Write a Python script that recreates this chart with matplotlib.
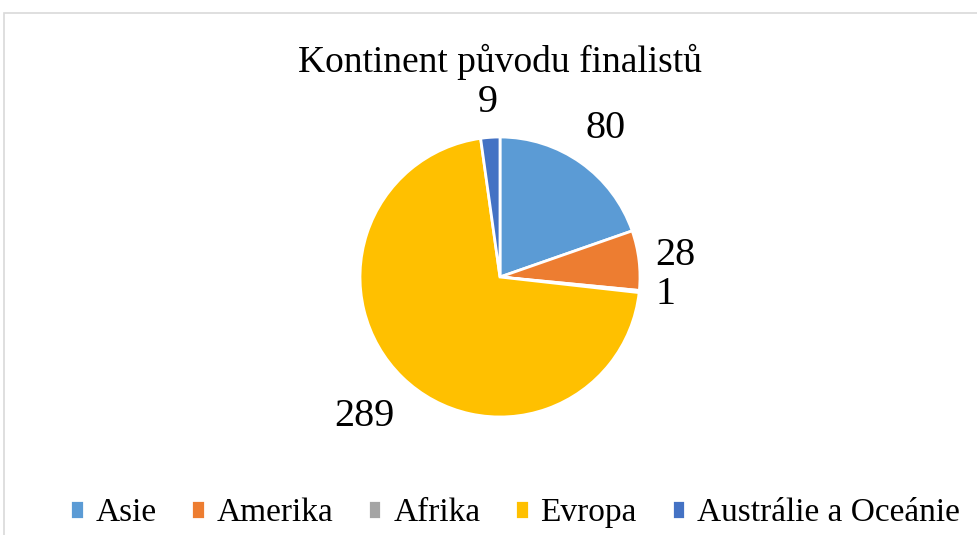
import numpy as np
import matplotlib
matplotlib.use("Agg")
import matplotlib.pyplot as plt
from matplotlib.patches import Rectangle

plt.rcParams["font.family"] = ["Liberation Serif", "DejaVu Serif"]

# Data
categories = ["Asie", "Amerika", "Afrika", "Evropa", "Austrálie a Oceánie"]
counts = [80, 28, 1, 289, 9]
colors = ["#5B9BD5", "#ED7D31", "#A5A5A5", "#FFC000", "#4472C4"]

W, H = 977, 535
fig = plt.figure(figsize=(W / 100, H / 100), dpi=100)

# light chart frame (cropped on right/bottom)
fig.patches.append(Rectangle((4 / W, -0.1), 1.2, 1 - 13 / H + 0.1,
                             transform=fig.transFigure, fill=False,
                             edgecolor="#D9D9D9", linewidth=1.2))

cx, cy, r = 500, 277, 140
ax = fig.add_axes([(cx - r) / W, (H - cy - r) / H, 2 * r / W, 2 * r / H])
wedges, _ = ax.pie(counts, colors=colors, startangle=90, counterclock=False,
                   radius=1.0, wedgeprops=dict(edgecolor="white", linewidth=2))
ax.set_xlim(-1, 1)
ax.set_ylim(-1, 1)
ax.set_aspect("equal")
ax.axis("off")

# value labels outside the slices
dist = [1.30, 1.26, 1.19, 1.39, 1.25]
for w, v, d in zip(wedges, counts, dist):
    mid = np.deg2rad((w.theta1 + w.theta2) / 2)
    ax.text(d * np.cos(mid), d * np.sin(mid), str(v), fontsize=29,
            ha="center", va="center", clip_on=False)

fig.text(cx / W, 1 - 62 / H, "Kontinent původu finalistů", fontsize=27,
         ha="center", va="center")

fig.legend(wedges, categories, loc="center", bbox_to_anchor=(0.527, 1 - 513 / H),
           ncol=5, frameon=False, fontsize=24, handlelength=0.4,
           handleheight=0.5, handletextpad=0.35, columnspacing=1.05)

fig.savefig("out.png", dpi=100)
